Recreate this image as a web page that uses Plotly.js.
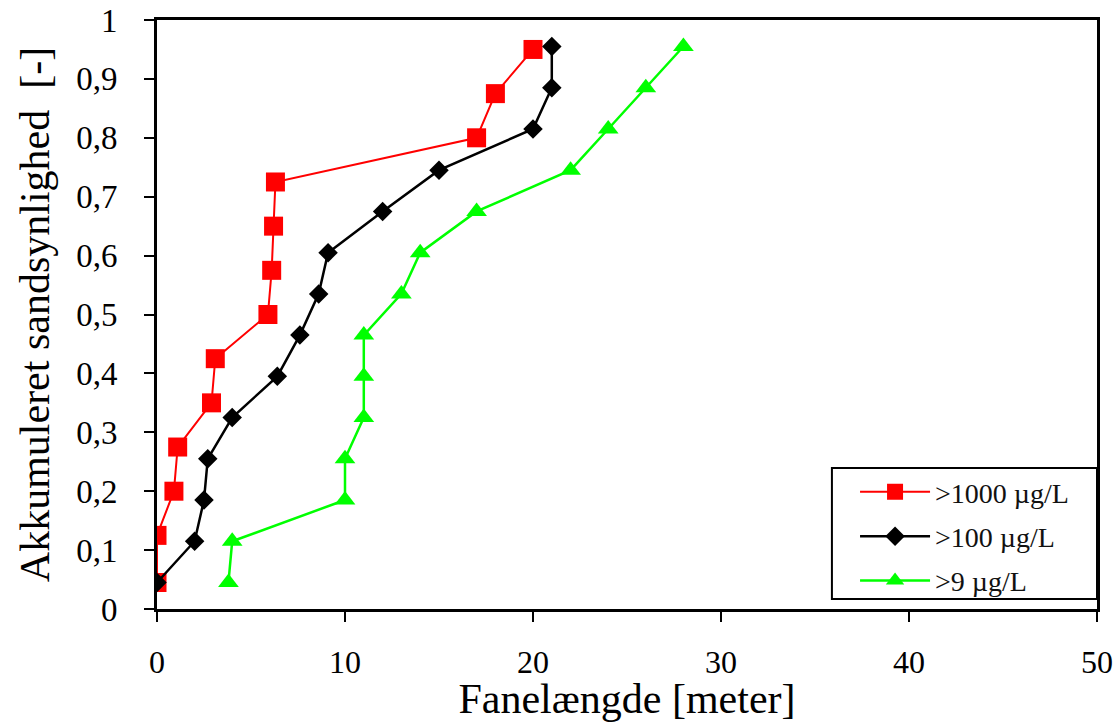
<!DOCTYPE html>
<html>
<head>
<meta charset="utf-8">
<script src="https://cdn.plot.ly/plotly-3.0.1.min.js"></script>
<style>html,body{margin:0;padding:0;background:#fff;}#chart{width:1120px;height:722px;}</style>
</head>
<body>
<div id="chart"></div>
<script>
// Data
const seriesNames = [">1000 µg/L", ">100 µg/L", ">9 µg/L"];
const x1000 = [0, 0, 0.9, 1.1, 2.9, 3.1, 5.9, 6.1, 6.2, 6.3, 17, 18, 20];
const y1000 = [0.045, 0.125, 0.2, 0.275, 0.35, 0.425, 0.5, 0.575, 0.65, 0.725, 0.8, 0.875, 0.95];
const x100 = [0, 2, 2.5, 2.7, 4, 6.4, 7.6, 8.6, 9.1, 12, 15, 20, 21, 21];
const y100 = [0.045, 0.115, 0.185, 0.255, 0.325, 0.395, 0.465, 0.535, 0.605, 0.675, 0.745, 0.815, 0.885, 0.955];
const x9 = [3.8, 4, 10, 10, 11, 11, 11, 13, 14, 17, 22, 24, 26, 28];
const y9 = [0.045, 0.115, 0.185, 0.255, 0.325, 0.395, 0.465, 0.535, 0.605, 0.675, 0.745, 0.815, 0.885, 0.955];
const yTickVals = [0, 0.1, 0.2, 0.3, 0.4, 0.5, 0.6, 0.7, 0.8, 0.9, 1];
const yTickText = ["0", "0,1", "0,2", "0,3", "0,4", "0,5", "0,6", "0,7", "0,8", "0,9", "1"];
const xTickVals = [0, 10, 20, 30, 40, 50];
const xTitle = "Fanelængde [meter]";
const yTitle = "Akkumuleret sandsynlighed  [-]";

const serif = "'Liberation Serif', 'Times New Roman', Times, serif";

const traces = [
  {x: x1000, y: y1000, name: seriesNames[0], legendgroup: "a", mode: "lines+markers",
   line: {color: "#ff0000", width: 2}, marker: {symbol: "square", size: 19, color: "#ff0000"}},
  {x: x100, y: y100, name: seriesNames[1], legendgroup: "b", mode: "lines+markers",
   line: {color: "#000000", width: 2.5}, marker: {symbol: "diamond", size: 15, color: "#000000"}},
  {x: x9, y: y9, name: seriesNames[2], legendgroup: "c", mode: "lines+markers",
   line: {color: "#00ff00", width: 2.5}, marker: {symbol: "triangle-up", size: 18, color: "#00ff00"}}
];

const layout = {
  width: 1120, height: 722,
  margin: {l: 157, r: 23, t: 20, b: 113},
  paper_bgcolor: "#fff", plot_bgcolor: "#fff",
  font: {family: serif, color: "#000"},
  showlegend: true,
  shapes: [{
    type: "rect", xref: "paper", yref: "paper",
    x0: 0.718, x1: 1, y0: 0.017, y1: 0.2394,
    line: {color: "#000", width: 2}, fillcolor: "#fff", layer: "above"
  }],
  legend: {
    x: 0.7426, xanchor: "left", y: 0.241, yanchor: "top",
    bgcolor: "rgba(0,0,0,0)", borderwidth: 0,
    font: {family: serif, size: 28, color: "#111"},
    tracegroupgap: 5, itemwidth: 70
  },
  xaxis: {
    range: [0, 50], tickvals: xTickVals, showgrid: false, zeroline: false,
    showline: true, linecolor: "#000", linewidth: 3, mirror: true,
    ticks: "outside", ticklen: 10, tickwidth: 2, tickcolor: "#000",
    tickfont: {family: serif, size: 32, color: "#000"}, ticklabelstandoff: 13,
    title: {text: xTitle, font: {family: serif, size: 42, color: "#000"}, standoff: 12},
    automargin: false
  },
  yaxis: {
    range: [0, 1], tickvals: yTickVals, ticktext: yTickText, showgrid: false, zeroline: false,
    showline: true, linecolor: "#000", linewidth: 3, mirror: true,
    ticks: "outside", ticklen: 10, tickwidth: 2, tickcolor: "#000",
    tickfont: {family: serif, size: 33, color: "#000"}, ticklabelstandoff: 20,
    title: {text: yTitle, font: {family: serif, size: 42, color: "#000"}, standoff: 14},
    automargin: false
  }
};

Plotly.newPlot("chart", traces, layout, {displayModeBar: false, staticPlot: true});
</script>
</body>
</html>
